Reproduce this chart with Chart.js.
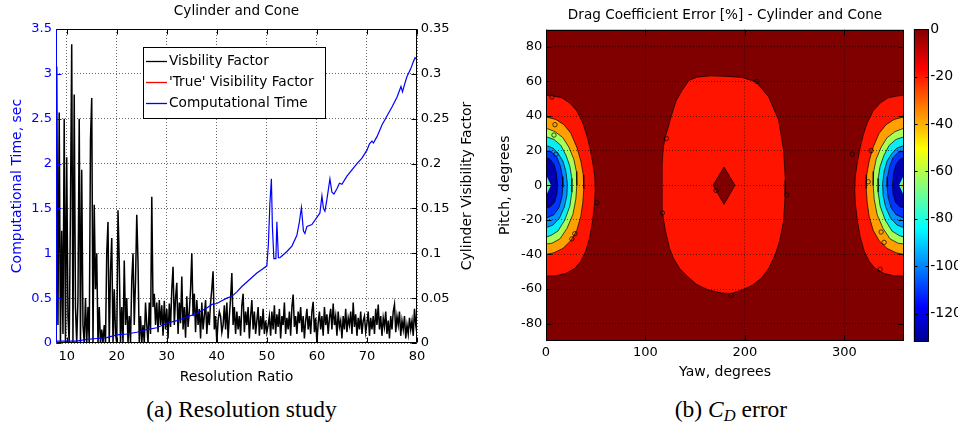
<!DOCTYPE html>
<html>
<head>
<meta charset="utf-8">
<script src="https://cdn.jsdelivr.net/npm/chart.js"></script>
<style>
  body { margin: 0; background: #fff; width: 958px; height: 427px; position: relative; overflow: hidden; }
  canvas { position: absolute; top: 0; }
  #timeChart { left: 0; }
  #dragChart { left: 490px; }
  #scaleBar { left: 905px; }
  .caption { position: absolute; top: 397px; line-height: 24px; font-family: "Liberation Serif", "Times New Roman", serif; font-size: 23.5px; text-align: center; }
  .caption sub { font-size: 70%; vertical-align: -4px; line-height: 0; }
</style>
</head>
<body>
<canvas id="timeChart" width="490" height="390"></canvas>
<canvas id="dragChart" width="420" height="390"></canvas>
<canvas id="scaleBar" width="53" height="390"></canvas>
<div class="caption" style="left:0; width:483px;">(a) Resolution study</div>
<div class="caption" style="left:631px; width:200px;">(b) <i>C<sub>D</sub></i> error</div>
<script>
// ---- (a) resolution study ----
// visibility factor sampled every 0.25 of resolution ratio, one row per integer ratio (8 .. 80)
const ratioStart = 8;
const ratioStep = 0.25;
const visibilityFactor = [
  0.308, 0.020, 0.257, 0.000,   // 8
  0.125, 0.010, 0.250, 0.000,   // 9
  0.207, 0.030, 0.000, 0.150,   // 10
  0.333, 0.000, 0.277, 0.040,   // 11
  0.000, 0.050, 0.250, 0.000,   // 12
  0.193, 0.020, 0.000, 0.050,   // 13
  0.000, 0.040, 0.000, 0.227,   // 14
  0.273, 0.000, 0.154, 0.060,   // 15
  0.100, 0.000, 0.040, 0.000,   // 16
  0.015, 0.000, 0.020, 0.000,   // 17
  0.100, 0.135, 0.000, 0.080,   // 18
  0.117, 0.000, 0.060, 0.010,   // 19
  0.000, 0.148, 0.090, 0.000,   // 20
  0.040, 0.000, 0.092, 0.020,   // 21
  0.050, 0.000, 0.030, 0.000,   // 22
  0.070, 0.100, 0.020, 0.070,   // 23
  0.143, 0.090, 0.000, 0.030,   // 24
  0.000, 0.020, 0.000, 0.045,   // 25
  0.020, 0.000, 0.045, 0.010,   // 26
  0.163, 0.040, 0.055, 0.020,   // 27
  0.045, 0.012, 0.048, 0.020,   // 28
  0.042, 0.008, 0.047, 0.015,   // 29
  0.038, 0.005, 0.044, 0.018,   // 30
  0.060, 0.085, 0.020, 0.050,   // 31
  0.067, 0.010, 0.045, 0.022,   // 32
  0.074, 0.015, 0.040, 0.006,   // 33
  0.052, 0.018, 0.035, 0.060,   // 34
  0.100, 0.030, 0.055, 0.012,   // 35
  0.048, 0.020, 0.038, 0.005,   // 36
  0.045, 0.015, 0.030, 0.048,   // 37
  0.010, 0.035, 0.020, 0.045,   // 38
  0.060, 0.080, 0.015, 0.030,   // 39
  0.000, 0.025, 0.035, 0.030,   // 40
  0.012, 0.020, 0.042, 0.015,   // 41
  0.045, 0.005, 0.030, 0.050,   // 42
  0.078, 0.020, 0.040, 0.010,   // 43
  0.035, 0.015, 0.030, 0.008,   // 44
  0.042, 0.055, 0.012, 0.035,   // 45
  0.020, 0.040, 0.005, 0.030,   // 46
  0.048, 0.015, 0.035, 0.010,   // 47
  0.025, 0.040, 0.008, 0.030,   // 48
  0.015, 0.038, 0.010, 0.025,   // 49
  0.012, 0.020, 0.030, 0.008,   // 50
  0.035, 0.015, 0.042, 0.010,   // 51
  0.032, 0.018, 0.038, 0.005,   // 52
  0.030, 0.020, 0.045, 0.010,   // 53
  0.028, 0.015, 0.035, 0.008,   // 54
  0.040, 0.054, 0.018, 0.030,   // 55
  0.010, 0.035, 0.022, 0.040,   // 56
  0.012, 0.030, 0.005, 0.025,   // 57
  0.038, 0.015, 0.030, 0.010,   // 58
  0.035, 0.046, 0.012, 0.028,   // 59
  0.000, 0.022, 0.035, 0.015,   // 60
  0.030, 0.008, 0.040, 0.020,   // 61
  0.032, 0.010, 0.028, 0.038,   // 62
  0.015, 0.044, 0.020, 0.030,   // 63
  0.008, 0.035, 0.018, 0.025,   // 64
  0.005, 0.030, 0.015, 0.038,   // 65
  0.012, 0.028, 0.020, 0.035,   // 66
  0.010, 0.045, 0.018, 0.032,   // 67
  0.008, 0.028, 0.015, 0.035,   // 68
  0.010, 0.025, 0.030, 0.012,   // 69
  0.022, 0.035, 0.008, 0.028,   // 70
  0.015, 0.030, 0.010, 0.038,   // 71
  0.020, 0.043, 0.015, 0.030,   // 72
  0.008, 0.028, 0.018, 0.035,   // 73
  0.010, 0.025, 0.005, 0.030,   // 74
  0.015, 0.035, 0.043, 0.012,   // 75
  0.030, 0.020, 0.035, 0.008,   // 76
  0.025, 0.015, 0.030, 0.005,   // 77
  0.020, 0.010, 0.028, 0.015,   // 78
  0.025, 0.008, 0.038, 0.020,   // 79
  0.010                         // 80
];
const trueRatio = [8, 80];
const trueVisibility = [0, 0];

const timeRatio = [8, 10, 12, 14, 16, 18, 20, 22, 24, 26, 28, 30, 32, 34, 36, 38, 39, 40, 41, 42,
  43, 44, 45, 46, 47, 48, 49, 50, 50.3, 50.6, 50.9, 51.1, 51.4, 51.8, 52.0, 52.3, 52.6, 53, 54, 55,
  56, 56.5, 56.9, 57.3, 57.6, 58, 59, 60, 60.6, 61.0, 61.3, 61.6, 62, 62.6, 63.0, 63.4, 64, 64.5, 65, 66,
  67, 68, 69, 70, 70.5, 71, 71.3, 72, 73, 74, 75, 76, 76.8, 77.1, 77.5, 78, 78.7, 79.3, 79.6, 80];
const timeSec = [0.02, 0.02, 0.02, 0.04, 0.05, 0.06, 0.09, 0.10, 0.12, 0.15, 0.17, 0.22, 0.25, 0.29, 0.33, 0.39, 0.43, 0.44, 0.47, 0.50,
  0.52, 0.57, 0.63, 0.68, 0.73, 0.78, 0.82, 0.86, 1.10, 1.55, 1.83, 1.30, 0.94, 0.94, 1.35, 0.95, 0.95, 0.97, 1.02, 1.08,
  1.20, 1.35, 1.51, 1.25, 1.22, 1.30, 1.32, 1.40, 1.45, 1.64, 1.50, 1.47, 1.60, 1.83, 1.68, 1.66, 1.72, 1.78, 1.77, 1.86,
  1.93, 2.00, 2.06, 2.15, 2.22, 2.25, 2.23, 2.30, 2.43, 2.53, 2.63, 2.74, 2.86, 2.80, 2.88, 2.97, 3.05, 3.14, 3.18, 3.16];

const ratioTicks = [10, 20, 30, 40, 50, 60, 70, 80];
const timeTicks = [0, 0.5, 1, 1.5, 2, 2.5, 3, 3.5];
const visibilityTicks = [0, 0.05, 0.1, 0.15, 0.2, 0.25, 0.3, 0.35];

// ---- (b) drag coefficient error, yaw 0..360, pitch -90..90 ----
// filled contour boundaries near the yaw = 0 and yaw = 360 edges (pattern is mirrored about yaw 180),
// as [degrees in from the edge, pitch]
const edgeRed = [[0, 52], [8, 51.5], [16, 50.5], [24, 47.5], [31, 43], [37, 36], [41, 29], [44, 22], [47, 13], [49, 5],
  [49.5, -2], [49, -10], [47, -20], [44, -30], [40, -38], [35, -44], [29, -48], [20, -51], [10, -52.3], [0, -52.5]];
const edgeOrange = [[0, 39.5], [10, 38], [18, 35], [25, 30], [31, 22], [35, 14], [37.5, 6], [38, -2], [37, -10], [35, -18],
  [31, -26], [25, -32], [17, -36.5], [8, -39], [0, -40]];
const edgeYellow = [[0, 33], [9, 31], [17, 27.5], [23, 22], [28, 15], [30.5, 8], [31, 0], [30, -8], [27, -17], [21, -25],
  [14, -31], [6, -33.5], [0, -34]];
const edgeCyan = [[0, 28], [8, 26.5], [15, 23], [20, 17.5], [24, 11], [26, 4], [26, -4], [24, -12], [19, -20], [12, -26.5],
  [5, -29], [0, -30]];
const edgeSky = [[0, 23], [7, 21.5], [12, 18.5], [17, 14], [20, 8], [21.5, 1], [21, -6], [18.5, -12.5], [13.5, -19], [7, -23],
  [0, -24.5]];
const edgeBlue = [[0, 20], [6, 19], [11, 16], [14.5, 11], [16.5, 5], [17, -1], [16, -7], [13, -13], [8, -17], [0, -19]];
const edgeNavy = [[0, 16], [4, 15], [8, 12], [10.5, 7], [11.5, 1], [11, -5], [8.5, -10], [4, -12.5], [0, -13]];
const edgeSpike = [[0, 6], [5, 0], [0, -6]];
const edgeSpikeCore = [[0, 3], [3, 0], [0, -3]];

// central -20 % lobe and the small 0 % diamond inside it, as [yaw, pitch]
const centreOval = [[165, 63.2], [180, 63], [197, 62.3], [211, 59.8], [224, 51], [234, 37.5], [239, 20], [240.7, 3],
  [240.5, -5], [239, -20.6], [235, -32], [230.7, -40], [224, -48], [217, -53.6], [207, -58], [197, -60.5], [187, -62.5],
  [177, -62.3], [163, -60.5], [150.7, -57], [141, -52], [134, -47.8], [128, -42], [124, -36], [120, -26], [117.3, -16.6],
  [116.7, -5], [116.7, 2.6], [117, 12], [118, 22], [120, 28], [123, 33.6], [126, 40], [131, 49], [137, 55], [144, 60.7], [152, 62.5]];
const centreDiamond = [[179, 10.5], [190, 0], [179, -11], [168, 0]];
const contourLabels = [[6, 51], [121, 27], [212, 60], [171, -3], [242, -5.6], [308, 18], [51, -10], [117, -16], [186, -63.7],
  [336, -48.6], [9, 35], [8, 29], [10, 18], [26, -31], [29, -28], [327, 20], [324, 2], [337, -27], [340, -33]];

const yawTicks = [0, 100, 200, 300];
const pitchTicks = [-80, -60, -40, -20, 0, 20, 40, 60, 80];
const errorTicks = [0, -20, -40, -60, -80, -100, -120];
const errorMin = -132;
const errorMax = 0;

Chart.defaults.font.family = '"DejaVu Sans", sans-serif';
Chart.defaults.font.size = 13;
Chart.defaults.color = '#000';

const useTicks = list => scale => { scale.ticks = list.map(v => ({ value: v })); };
const dotted = { color: 'rgba(0,0,0,0.75)', lineWidth: 0.8, drawTicks: false };

// box round the plot area with short inward tick marks, Matlab style,
// plus a heading centred over the plot area and an optional right-hand axis label
const framePlugin = {
  id: 'frame',
  afterDraw(chart, args, opts) {
    const { ctx, chartArea: a } = chart;
    const l = Math.round(a.left) + 0.5, r = Math.round(a.right) - 0.5;
    const t = Math.round(a.top) + 0.5, b = Math.round(a.bottom) - 0.5;
    const seg = (color, x1, y1, x2, y2) => {
      ctx.strokeStyle = color;
      ctx.beginPath(); ctx.moveTo(x1, y1); ctx.lineTo(x2, y2); ctx.stroke();
    };
    ctx.save();
    ctx.lineWidth = 1;
    const len = opts.tickLength || 0;
    Object.values(chart.scales).forEach(s => {
      if (!len || !s.options.display) return;
      const color = s.options.ticks.color || '#000';
      s.ticks.forEach(tk => {
        const p = Math.round(s.getPixelForValue(tk.value)) + 0.5;
        if (s.isHorizontal()) {
          seg('#000', p, b, p, b - len);
          seg('#000', p, t, p, t + len);
        } else {
          if (s.position === 'left' || opts.mirrorY) seg(color, l, p, l + len, p);
          if (s.position === 'right' || opts.mirrorY) seg(color, r, p, r - len, p);
        }
      });
    });
    seg('#000', l, t, r, t);
    seg('#000', l, b, r, b);
    seg(opts.rightColor || '#000', r, t, r, b);
    seg(opts.leftColor || '#000', l, t, l, b);
    ctx.fillStyle = '#000';
    ctx.textAlign = 'center';
    ctx.textBaseline = 'middle';
    if (opts.heading) {
      ctx.font = '13.6px "DejaVu Sans"';
      ctx.fillText(opts.heading.text, (a.left + a.right) / 2, opts.heading.y);
    }
    if (opts.sideTitle) {
      ctx.save();
      ctx.translate(opts.sideTitle.x, (a.top + a.bottom) / 2);
      ctx.rotate(-Math.PI / 2);
      ctx.font = '14px "DejaVu Sans"';
      ctx.fillText(opts.sideTitle.text, 0, 0);
      ctx.restore();
    }
    ctx.restore();
  }
};

// legend drawn as a boxed list inside the plot area
const boxLegend = {
  id: 'boxLegend',
  afterDraw(chart, args, opts) {
    const { ctx, chartArea: a } = chart;
    const x = Math.round(a.left + opts.left), y = Math.round(a.top + opts.top);
    ctx.save();
    ctx.fillStyle = '#fff';
    ctx.fillRect(x, y, opts.width, opts.height);
    ctx.strokeStyle = '#000';
    ctx.lineWidth = 1;
    ctx.strokeRect(x + 0.5, y + 0.5, opts.width, opts.height);
    ctx.font = '13.7px "DejaVu Sans"';
    ctx.textBaseline = 'middle';
    chart.data.datasets.forEach((ds, i) => {
      const ry = Math.round(y + opts.rowTop + i * opts.rowGap) + 0.5;
      ctx.strokeStyle = ds.borderColor;
      ctx.lineWidth = 1.3;
      ctx.beginPath(); ctx.moveTo(x + 3, ry); ctx.lineTo(x + 24, ry); ctx.stroke();
      ctx.fillStyle = '#000';
      ctx.fillText(ds.label, x + 26, ry);
    });
    ctx.restore();
  }
};

new Chart(document.getElementById('timeChart'), {
  type: 'line',
  data: {
    datasets: [
      {
        label: 'Visbility Factor',
        data: visibilityFactor.map((v, i) => ({ x: ratioStart + i * ratioStep, y: v })),
        yAxisID: 'y1', borderColor: '#000', borderWidth: 1.5, order: 2
      },
      {
        label: "'True' Visibility Factor",
        data: trueRatio.map((r, i) => ({ x: r, y: trueVisibility[i] })),
        yAxisID: 'y1', borderColor: '#ff0000', borderWidth: 1.6, order: 0
      },
      {
        label: 'Computational Time',
        data: timeRatio.map((r, i) => ({ x: r, y: timeSec[i] })),
        yAxisID: 'y', borderColor: '#0000ff', borderWidth: 1.2, order: 1
      }
    ]
  },
  options: {
    responsive: false, animation: false, devicePixelRatio: 1, events: [],
    elements: { point: { radius: 0 }, line: { tension: 0 } },
    layout: { padding: { top: 29 } },
    plugins: {
      legend: { display: false }, tooltip: { enabled: false },
      frame: {
        tickLength: 5, leftColor: '#0000ff',
        heading: { text: 'Cylinder and Cone', y: 11.7 },
        sideTitle: { text: 'Cylinder Visibility Factor', x: 467 }
      },
      boxLegend: { left: 87, top: 18, width: 182, height: 71, rowTop: 14, rowGap: 21 }
    },
    scales: {
      x: {
        type: 'linear', min: 7.86, max: 80,
        afterBuildTicks: useTicks(ratioTicks), afterFit: s => { s.height = 47; },
        grid: dotted, border: { display: false, dash: [1, 2] },
        ticks: { padding: 6, maxRotation: 0, callback: v => String(v) },
        title: { display: true, text: 'Resolution Ratio', font: { size: 14 }, padding: { top: 0, bottom: 4.6 } }
      },
      y: {
        position: 'left', min: 0, max: 3.5,
        afterBuildTicks: useTicks(timeTicks), afterFit: s => { s.width = 56; },
        grid: dotted, border: { display: false, dash: [1, 2] },
        ticks: { padding: 4, color: '#0000ff', callback: v => String(v) },
        title: { display: true, text: 'Computational Time, sec', color: '#0000ff', font: { size: 14 }, padding: { top: 8.6, bottom: 0 } }
      },
      y1: {
        position: 'right', min: 0, max: 0.35,
        afterBuildTicks: useTicks(visibilityTicks), afterFit: s => { s.width = 73; },
        grid: { display: false, drawTicks: false }, border: { display: false },
        ticks: { padding: 3.7, color: '#000', callback: v => String(v) }
      }
    }
  },
  plugins: [framePlugin, boxLegend]
});

// ---- contour map ----
const fromEdge = (shape, side) => shape.map(([d, p]) => ({ x: side === 'left' ? d : 360 - d, y: p }));
const asPoints = shape => shape.map(([x, y]) => ({ x, y }));
const region = (points, color, order, closed, edge) => ({
  data: closed ? points.concat([points[0]]) : points,
  backgroundColor: color, borderColor: '#000', borderWidth: edge === undefined ? 0.7 : edge,
  fill: 'shape', pointRadius: 0, tension: 0, order
});

const edgeBands = [
  [edgeRed, '#ff1400'], [edgeOrange, '#ffa000'], [edgeYellow, '#a8ff58'], [edgeCyan, '#08eef2'],
  [edgeSky, '#0090ff'], [edgeBlue, '#0034ff'], [edgeNavy, '#0000b0']
];
const dragSets = [
  region(asPoints([[0, -90], [360, -90], [360, 90], [0, 90]]), '#800000', 100, true, 0),
  region(asPoints(centreOval), '#ff1400', 95, true),
  region(asPoints(centreDiamond), '#800000', 94, true)
];
edgeBands.forEach(([shape, color], i) => {
  dragSets.push(region(fromEdge(shape, 'left'), color, 90 - i, false));
  dragSets.push(region(fromEdge(shape, 'right'), color, 90 - i, false));
});
['left', 'right'].forEach(side => {
  dragSets.push(region(fromEdge(edgeSpike, side), '#40ffb0', 20, false, 0));
  dragSets.push(region(fromEdge(edgeSpikeCore, side), '#ffc000', 19, false, 0));
});
dragSets.push({
  data: asPoints(contourLabels), showLine: false, fill: false, order: 1,
  pointRadius: 2.2, pointBorderColor: '#000', pointBackgroundColor: 'rgba(0,0,0,0)', pointBorderWidth: 0.7
});

new Chart(document.getElementById('dragChart'), {
  type: 'line',
  data: { datasets: dragSets },
  options: {
    responsive: false, animation: false, devicePixelRatio: 1, events: [],
    layout: { padding: { left: 0, right: 6, top: 29.5, bottom: 0 } },
    plugins: {
      legend: { display: false }, tooltip: { enabled: false },
      frame: { tickLength: 5, mirrorY: true, heading: { text: 'Drag Coefficient Error [%] - Cylinder and Cone', y: 15.5 } }
    },
    scales: {
      x: {
        type: 'linear', min: 0, max: 360,
        afterBuildTicks: useTicks(yawTicks), afterFit: s => { s.height = 49; },
        grid: Object.assign({ z: 1 }, dotted), border: { display: false, dash: [1, 2] },
        ticks: { padding: 4.2, maxRotation: 0 },
        title: { display: true, text: 'Yaw, degrees', font: { size: 14 }, padding: { top: 0, bottom: 8.9 } }
      },
      y: {
        min: -90, max: 90,
        afterBuildTicks: useTicks(pitchTicks), afterFit: s => { s.width = 56; },
        grid: Object.assign({ z: 1 }, dotted), border: { display: false, dash: [1, 2] },
        ticks: { padding: 3.7 },
        title: { display: true, text: 'Pitch, degrees', font: { size: 14 }, padding: { top: 6.6, bottom: 0 } }
      }
    }
  },
  plugins: [framePlugin]
});

// ---- colour bar (jet colormap) ----
const jetFill = context => {
  const a = context.chart.chartArea;
  if (!a) return '#800000';
  const g = context.chart.ctx.createLinearGradient(0, a.bottom, 0, a.top);
  g.addColorStop(0, '#00008f');
  g.addColorStop(0.111, '#0000ff');
  g.addColorStop(0.365, '#00ffff');
  g.addColorStop(0.619, '#ffff00');
  g.addColorStop(0.873, '#ff0000');
  g.addColorStop(1, '#800000');
  return g;
};

new Chart(document.getElementById('scaleBar'), {
  type: 'bar',
  data: {
    labels: ['error'],
    datasets: [{ data: [[errorMin, errorMax]], backgroundColor: jetFill, borderWidth: 0, barPercentage: 1, categoryPercentage: 1 }]
  },
  options: {
    responsive: false, animation: false, devicePixelRatio: 1, events: [],
    layout: { padding: { left: 8.7, right: 0, top: 29.3, bottom: 48 } },
    plugins: { legend: { display: false }, tooltip: { enabled: false }, frame: { tickLength: 3, mirrorY: true } },
    scales: {
      x: { display: false },
      y: {
        position: 'right', min: errorMin, max: errorMax,
        afterBuildTicks: useTicks(errorTicks), afterFit: s => { s.width = 29.3; },
        grid: { display: false, drawTicks: false }, border: { display: false },
        ticks: { padding: 1.5, color: '#000', font: { size: 14 } }
      }
    }
  },
  plugins: [framePlugin]
});
</script>
</body>
</html>
